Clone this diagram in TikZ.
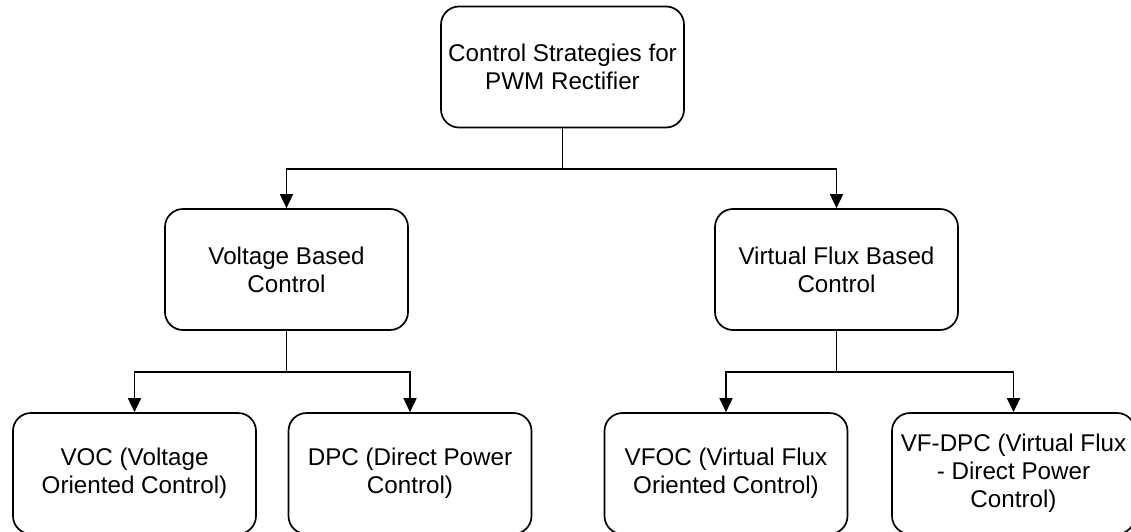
\documentclass[tikz,border=0pt]{standalone}
\usepackage{fontspec}
\setmainfont{Liberation Sans}
\usetikzlibrary{arrows.meta}
\begin{document}
\begin{tikzpicture}[x=1pt,y=-1pt,
 box/.style={draw, line width=1.7pt, rounded corners=18pt, minimum width=243pt, minimum height=121pt, align=center, font=\fontsize{24.2}{28}\selectfont, inner sep=0pt},
 conn/.style={line width=1.7pt},
 arr/.style={conn, -{Triangle[length=14pt,width=13pt]}}]
\useasboundingbox (0,0) rectangle (1131,532);
\node[box] (top) at (562.5,67) {Control Strategies for\\PWM Rectifier};
\node[box] (vb) at (286.5,269.5) {Voltage Based\\Control};
\node[box] (vf) at (836.5,269.5) {Virtual Flux Based\\Control};
\node[box] (voc) at (134.5,473.5) {VOC (Voltage\\Oriented Control)};
\node[box] (dpc) at (410,473.5) {DPC (Direct Power\\Control)};
\node[box] (vfoc) at (726,473.5) {VFOC (Virtual Flux\\Oriented Control)};
\node[box] (vfdpc) at (1013.5,473.5) {VF-DPC (Virtual Flux\\- Direct Power\\Control)};
\coordinate (j1) at (562.5,169);
\coordinate (j2) at (286.5,372);
\coordinate (j3) at (836.5,372);
\draw[conn] (top.south) -- (j1);
\draw[arr] (j1) -| (vb.north);
\draw[arr] (j1) -| (vf.north);
\draw[conn] (vb.south) -- (j2);
\draw[arr] (j2) -| (voc.north);
\draw[arr] (j2) -| (dpc.north);
\draw[conn] (vf.south) -- (j3);
\draw[arr] (j3) -| (vfoc.north);
\draw[arr] (j3) -| (vfdpc.north);
\end{tikzpicture}
\end{document}
